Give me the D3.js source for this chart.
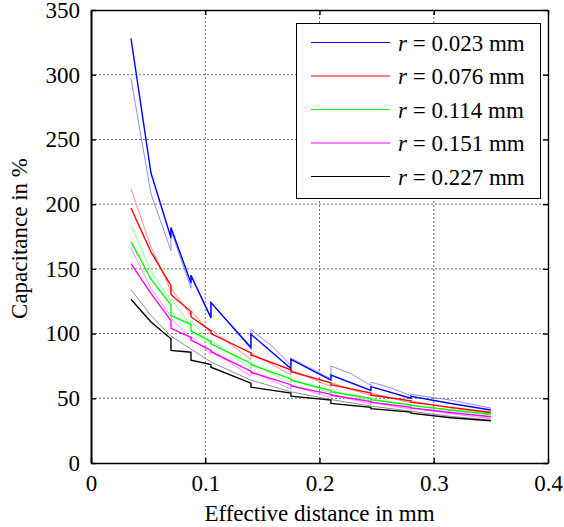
<!DOCTYPE html>
<html>
<head>
<meta charset="utf-8">
<script src="https://cdn.jsdelivr.net/npm/d3@7"></script>
<style>
  body { margin: 0; background: #fff; }
</style>
</head>
<body>
<svg id="chart"></svg>
<script>
// tick values
const xTicks = [0, 0.1, 0.2, 0.3, 0.4];
const yTicks = [0, 50, 100, 150, 200, 250, 300, 350];

// legend labels (radius in mm)
const radii = ["0.023", "0.076", "0.114", "0.151", "0.227"];

// thick (dark) curves, [distance mm, capacitance %], repeated x = jump
const blueThick = [[0.035,328],[0.0525,224],[0.07,174],[0.07,182],[0.0875,139],[0.0875,145],[0.105,112],[0.105,124],[0.14,89],[0.14,99.5],[0.175,73],[0.175,80],[0.21,64],[0.21,68],[0.245,56],[0.245,59],[0.28,50],[0.28,51.5],[0.315,46],[0.35,41]];
const redThick = [[0.035,197],[0.0525,163],[0.07,137],[0.07,130],[0.0875,117],[0.0875,113],[0.105,102],[0.105,100],[0.14,85],[0.14,83.5],[0.175,72],[0.175,70.5],[0.21,62],[0.21,60.5],[0.245,54],[0.245,52.5],[0.28,48],[0.28,47],[0.315,43],[0.35,39]];
const greenThick = [[0.035,171],[0.0525,142],[0.07,122],[0.07,114],[0.0875,107],[0.0875,102],[0.105,94],[0.105,92],[0.14,77],[0.14,76],[0.175,65],[0.175,64],[0.21,56],[0.21,55],[0.245,50],[0.245,49],[0.28,45],[0.28,44.5],[0.315,41],[0.35,37.8]];
const magentaThick = [[0.035,154],[0.0525,131],[0.07,110],[0.07,104],[0.0875,97],[0.0875,95],[0.105,87],[0.105,86],[0.14,71],[0.14,70],[0.175,60.5],[0.175,59.5],[0.21,53],[0.21,52.5],[0.245,47.5],[0.245,47],[0.28,43],[0.28,42.5],[0.315,39],[0.35,35.7]];
const blackThick = [[0.035,126.5],[0.0525,109],[0.07,96],[0.07,87],[0.0875,85.6],[0.0875,79.4],[0.105,76],[0.105,74],[0.14,61.7],[0.14,58.6],[0.175,54],[0.175,51.6],[0.21,48.6],[0.21,46],[0.245,43],[0.245,42],[0.28,39.3],[0.28,38.5],[0.315,35],[0.35,32.6]];

// thin (light) curves
const blueThin = [[0.035,297],[0.0525,208],[0.07,164],[0.07,180],[0.0875,135],[0.0875,145],[0.105,113],[0.105,124],[0.14,90],[0.14,103],[0.1575,91],[0.175,75.5],[0.175,81],[0.21,65],[0.21,75],[0.2275,69],[0.245,60],[0.245,62.5],[0.2625,58],[0.28,52],[0.28,53],[0.315,48.6],[0.35,42.4]];
const redThin = [[0.035,212],[0.0525,167],[0.07,133],[0.07,135],[0.0875,114],[0.0875,118],[0.105,100],[0.105,103],[0.14,80],[0.14,85],[0.175,68],[0.175,72],[0.21,59],[0.21,62],[0.245,52],[0.245,54],[0.28,46.5],[0.28,48],[0.315,42.5],[0.35,38.5]];
const greenThin = [[0.035,184],[0.0525,148],[0.07,125],[0.07,127],[0.0875,106],[0.0875,110],[0.105,92],[0.105,95],[0.14,73],[0.14,77],[0.175,62],[0.175,65],[0.21,54],[0.21,56],[0.245,48],[0.245,50],[0.28,43.5],[0.28,45],[0.315,40.5],[0.35,37]];
const pinkThin = [[0.035,166],[0.0525,135],[0.07,113],[0.07,112],[0.0875,96],[0.0875,98],[0.105,84],[0.105,87],[0.14,67],[0.14,71],[0.175,57],[0.175,60],[0.21,50.5],[0.21,53],[0.245,45.5],[0.245,47],[0.28,41.5],[0.28,42.5],[0.315,38],[0.35,34.4]];
const grayThin = [[0.035,134],[0.0525,114],[0.07,98],[0.0875,88],[0.105,78],[0.14,64],[0.175,55],[0.21,49],[0.245,44],[0.28,40],[0.315,36],[0.35,33.2]];

const thickSeries = [blueThick, redThick, greenThick, magentaThick, blackThick];
const thinSeries = [blueThin, redThin, greenThin, pinkThin, grayThin];
const thickColors = ["#0000ff", "#ff0000", "#00ff00", "#ff00ff", "#000000"];
const thinColors = ["#8c8cff", "#ff8c8c", "#8cff8c", "#ff8cff", "#8c8c8c"];

const FONT = "'Liberation Serif', 'Times New Roman', serif";
const WIDTH = 564, HEIGHT = 527;
const MARGINS = { top: 10, right: 16, bottom: 64, left: 91 };

const svg = d3.select("#chart").attr("width", WIDTH).attr("height", HEIGHT);

const x = d3.scaleLinear().domain([0, 0.4]).range([MARGINS.left, WIDTH - MARGINS.right]);
const y = d3.scaleLinear().domain([0, 350]).range([HEIGHT - MARGINS.bottom, MARGINS.top]);

// dotted grid
const grid = svg.append("g")
  .attr("stroke", "#444")
  .attr("stroke-width", 0.8)
  .attr("stroke-dasharray", "2,2");
grid.selectAll(".vgrid")
  .data(xTicks.slice(1, -1))
  .enter()
  .append("line")
  .attr("x1", d => x(d)).attr("x2", d => x(d))
  .attr("y1", y(0)).attr("y2", y(350));
grid.selectAll(".hgrid")
  .data(yTicks.slice(1, -1))
  .enter()
  .append("line")
  .attr("x1", x(0)).attr("x2", x(0.4))
  .attr("y1", d => y(d)).attr("y2", d => y(d));

const line = d3.line().x(d => x(d[0])).y(d => y(d[1]));

// light curves first, dark ones on top
svg.append("g").selectAll("path")
  .data(thinSeries)
  .enter()
  .append("path")
  .attr("d", line)
  .attr("fill", "none")
  .attr("stroke", (d, i) => thinColors[i])
  .attr("stroke-width", 1);

svg.append("g").selectAll("path")
  .data(thickSeries)
  .enter()
  .append("path")
  .attr("d", line)
  .attr("fill", "none")
  .attr("stroke", (d, i) => thickColors[i])
  .attr("stroke-width", 1.4);

// axes, ticks pointing inward on all four sides
const fmt = d => d === 0 ? "0" : String(d);
const bottomAxis = svg.append("g")
  .attr("transform", `translate(0,${y(0)})`)
  .call(d3.axisBottom(x).tickValues(xTicks).tickFormat(fmt).tickSizeInner(-5).tickSizeOuter(0).tickPadding(12));
const leftAxis = svg.append("g")
  .attr("transform", `translate(${x(0)},0)`)
  .call(d3.axisLeft(y).tickValues(yTicks).tickSizeInner(-5).tickSizeOuter(0).tickPadding(11));
const topAxis = svg.append("g")
  .attr("transform", `translate(0,${y(350)})`)
  .call(d3.axisTop(x).tickValues(xTicks).tickFormat("").tickSizeInner(-5).tickSizeOuter(0));
const rightAxis = svg.append("g")
  .attr("transform", `translate(${x(0.4)},0)`)
  .call(d3.axisRight(y).tickValues(yTicks).tickFormat("").tickSizeInner(-5).tickSizeOuter(0));

[bottomAxis, leftAxis, topAxis, rightAxis].forEach(a => {
  a.attr("font-family", FONT).attr("font-size", 23);
  a.select(".domain").attr("stroke", "#000").attr("stroke-width", 1.4);
  a.selectAll(".tick line").attr("stroke", "#000").attr("stroke-width", 1.4);
  a.selectAll("text").attr("fill", "#000").style("font-family", FONT).style("font-size", "23px");
});
leftAxis.select(".domain").attr("stroke-width", 2);

// axis titles
svg.append("text")
  .attr("x", (x(0) + x(0.4)) / 2)
  .attr("y", 521)
  .attr("text-anchor", "middle")
  .style("font-family", FONT)
  .style("font-size", "23px")
  .text("Effective distance in mm");

svg.append("text")
  .attr("transform", `translate(27,${(y(0) + y(350)) / 2 + 2}) rotate(-90)`)
  .attr("text-anchor", "middle")
  .style("font-family", FONT)
  .style("font-size", "23px")
  .text("Capacitance in %");

// legend
const legend = svg.append("g");
legend.append("rect")
  .attr("x", 296.5).attr("y", 23.5)
  .attr("width", 244).attr("height", 175)
  .attr("fill", "#fff")
  .attr("stroke", "#000")
  .attr("stroke-width", 1);

radii.forEach((r, i) => {
  const rowY = 42.5 + i * 33.5;
  legend.append("line")
    .attr("x1", 311).attr("x2", 390)
    .attr("y1", rowY).attr("y2", rowY)
    .attr("stroke", thickColors[i])
    .attr("stroke-width", 1.2);
  const label = legend.append("text")
    .attr("x", 398)
    .attr("y", rowY + 8)
    .style("font-family", FONT)
    .style("font-size", "23px");
  label.append("tspan").style("font-style", "italic").text("r");
  label.append("tspan").text(` = ${r} mm`);
});
</script>
</body>
</html>
